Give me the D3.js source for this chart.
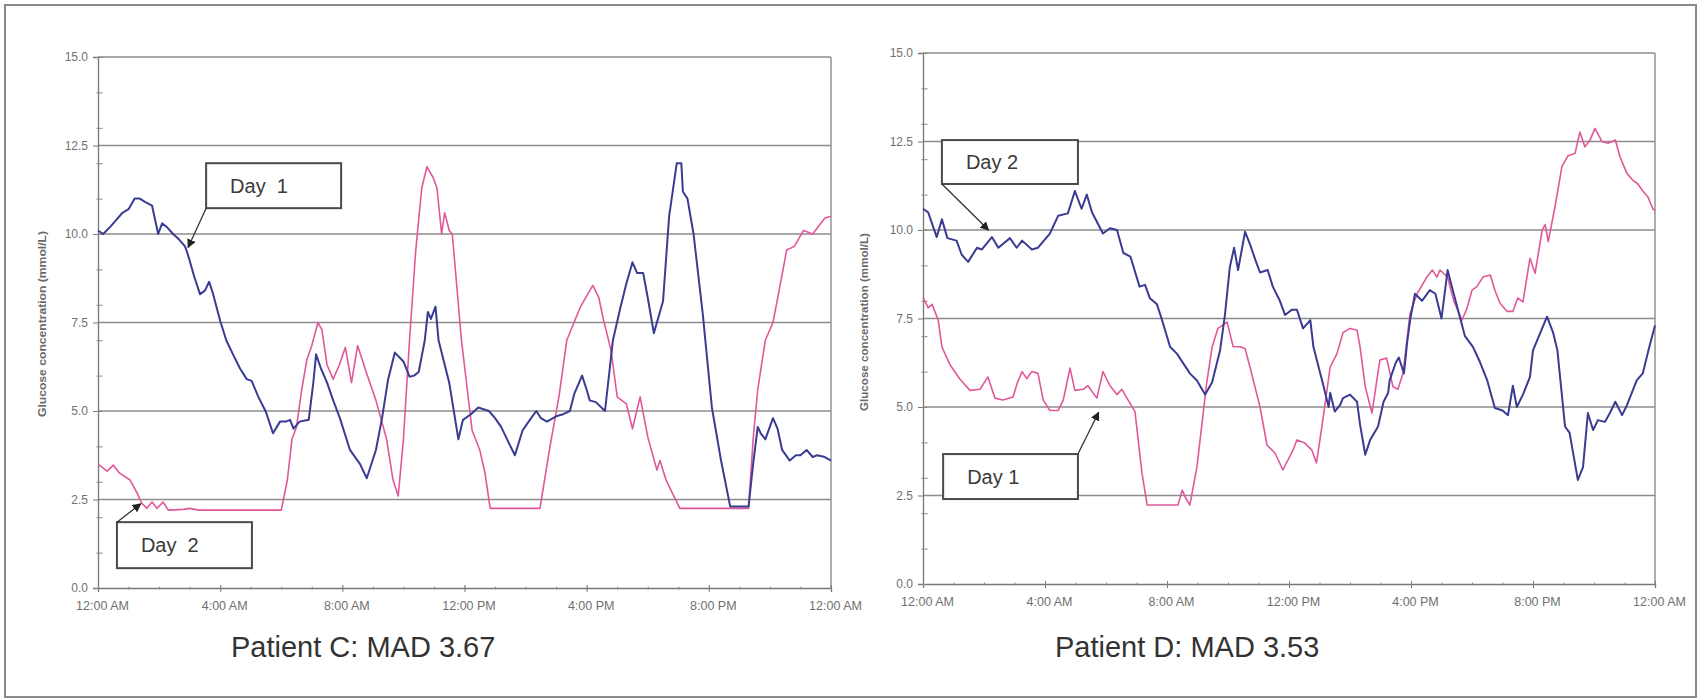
<!DOCTYPE html>
<html>
<head>
<meta charset="utf-8">
<script src="https://cdn.jsdelivr.net/npm/d3@7"></script>
<style>
  html, body { margin: 0; padding: 0; background: #fff; }
  svg { display: block; font-family: "Liberation Sans", Arial, sans-serif; }
</style>
</head>
<body>
<svg id="chart" width="1701" height="699"></svg>
<script>
// ---------------- DATA ----------------
// time in hours since midnight, glucose in mmol/L
const patientC_day1 = [[0,10.1],[0.17,10.0],[0.4,10.2],[0.6,10.4],[0.8,10.6],[1.0,10.7],[1.2,11.0],[1.37,11.0],[1.55,10.9],[1.77,10.8],[1.97,10.0],[2.1,10.3],[2.25,10.2],[2.46,10.0],[2.65,9.85],[2.85,9.65],[2.95,9.4],[3.15,8.8],[3.34,8.3],[3.5,8.4],[3.64,8.65],[3.77,8.3],[4.0,7.55],[4.2,7.0],[4.42,6.6],[4.65,6.2],[4.87,5.9],[5.03,5.85],[5.25,5.4],[5.5,4.97],[5.73,4.37],[5.96,4.7],[6.15,4.7],[6.29,4.75],[6.4,4.5],[6.6,4.7],[6.9,4.75],[7.05,5.8],[7.14,6.6],[7.3,6.2],[7.5,5.8],[7.7,5.3],[7.92,4.8],[8.25,3.9],[8.58,3.5],[8.8,3.1],[9.1,3.9],[9.3,4.8],[9.5,5.9],[9.72,6.65],[10.0,6.4],[10.2,5.97],[10.35,6.0],[10.5,6.1],[10.7,7.0],[10.8,7.8],[10.9,7.6],[11.05,7.95],[11.15,7.0],[11.5,5.8],[11.8,4.2],[11.95,4.75],[12.2,4.9],[12.45,5.1],[12.8,5.0],[13.0,4.8],[13.2,4.55],[13.45,4.1],[13.65,3.75],[13.9,4.45],[14.1,4.7],[14.35,5.0],[14.5,4.8],[14.7,4.7],[15.0,4.85],[15.2,4.9],[15.45,5.0],[15.6,5.5],[15.85,6.0],[16.0,5.6],[16.1,5.3],[16.3,5.25],[16.6,5.0],[16.86,7.0],[17.1,7.9],[17.3,8.6],[17.5,9.2],[17.65,8.9],[17.85,8.9],[18.0,8.2],[18.2,7.2],[18.5,8.1],[18.7,10.5],[18.95,12.0],[19.1,12.0],[19.15,11.2],[19.3,11.0],[19.5,10.0],[19.8,7.75],[20.1,5.1],[20.4,3.6],[20.7,2.3],[21.0,2.3],[21.3,2.3],[21.45,3.5],[21.6,4.55],[21.7,4.37],[21.85,4.2],[22.1,4.8],[22.25,4.5],[22.4,3.9],[22.65,3.6],[22.85,3.75],[23.0,3.75],[23.2,3.9],[23.4,3.7],[23.55,3.75],[23.8,3.7],[24,3.6]];

const patientC_day2 = [[0,3.5],[0.3,3.3],[0.5,3.47],[0.7,3.25],[1.05,3.05],[1.27,2.7],[1.43,2.4],[1.6,2.25],[1.77,2.43],[1.93,2.25],[2.13,2.43],[2.3,2.2],[2.8,2.22],[3.0,2.25],[3.3,2.2],[6.0,2.2],[6.2,3.05],[6.35,4.2],[6.5,4.55],[6.67,5.6],[6.84,6.45],[7.0,6.85],[7.2,7.5],[7.33,7.3],[7.5,6.3],[7.7,5.9],[7.9,6.3],[8.1,6.8],[8.3,5.8],[8.5,6.85],[8.8,6.05],[9.1,5.3],[9.45,4.2],[9.66,3.05],[9.83,2.6],[10.0,4.2],[10.2,7.0],[10.4,9.5],[10.6,11.3],[10.77,11.9],[10.97,11.6],[11.1,11.3],[11.25,10.0],[11.35,10.6],[11.5,10.1],[11.6,10.0],[11.9,7.0],[12.25,4.45],[12.5,3.9],[12.67,3.25],[12.84,2.25],[14.47,2.25],[14.8,4.0],[15.1,5.45],[15.35,7.0],[15.8,7.95],[16.2,8.55],[16.4,8.2],[16.55,7.57],[16.66,7.2],[16.8,6.7],[17.0,5.4],[17.15,5.3],[17.3,5.2],[17.5,4.5],[17.75,5.4],[18.0,4.27],[18.3,3.33],[18.4,3.6],[18.6,3.05],[19.05,2.25],[21.3,2.25],[21.45,4.2],[21.6,5.6],[21.85,7.0],[22.1,7.5],[22.3,8.4],[22.55,9.55],[22.8,9.65],[23.1,10.1],[23.4,10.0],[23.8,10.45],[24.0,10.5]];

const patientD_day2 = [[0,10.6],[0.17,10.5],[0.45,9.8],[0.62,10.3],[0.8,9.77],[1.1,9.7],[1.27,9.3],[1.48,9.1],[1.77,9.5],[1.93,9.45],[2.26,9.8],[2.47,9.5],[2.85,9.77],[3.07,9.5],[3.25,9.7],[3.57,9.45],[3.77,9.5],[4.16,9.9],[4.43,10.4],[4.75,10.47],[4.98,11.1],[5.2,10.6],[5.37,11.0],[5.54,10.5],[5.9,9.9],[6.13,10.05],[6.36,10.0],[6.57,9.35],[6.8,9.25],[7.1,8.4],[7.28,8.45],[7.44,8.07],[7.67,7.9],[7.84,7.45],[8.1,6.7],[8.33,6.5],[8.75,5.95],[8.98,5.75],[9.25,5.35],[9.48,5.7],[9.74,6.6],[9.9,7.6],[10.06,8.95],[10.2,9.5],[10.33,8.87],[10.56,9.95],[10.72,9.6],[10.9,9.15],[11.05,8.8],[11.3,8.87],[11.47,8.4],[11.7,8.0],[11.87,7.6],[12.1,7.75],[12.26,7.75],[12.46,7.22],[12.7,7.45],[12.8,6.7],[13.1,5.7],[13.3,5.0],[13.35,5.4],[13.5,4.87],[13.67,5.05],[13.77,5.25],[14.0,5.35],[14.23,5.15],[14.33,4.5],[14.5,3.65],[14.66,4.07],[14.92,4.45],[15.1,5.15],[15.25,5.4],[15.3,5.75],[15.5,6.25],[15.6,6.4],[15.77,5.95],[15.87,6.8],[15.97,7.45],[16.13,8.2],[16.36,8.0],[16.62,8.3],[16.8,8.2],[17.0,7.5],[17.2,8.87],[17.4,8.2],[17.6,7.55],[17.77,7.0],[18.03,6.7],[18.26,6.27],[18.5,5.75],[18.75,4.97],[19.0,4.9],[19.18,4.77],[19.34,5.6],[19.47,5.0],[19.67,5.35],[19.9,5.85],[20.0,6.6],[20.46,7.55],[20.66,7.1],[20.8,6.6],[21.05,4.45],[21.2,4.27],[21.47,2.94],[21.64,3.3],[21.8,4.83],[21.97,4.35],[22.13,4.63],[22.36,4.58],[22.52,4.83],[22.7,5.15],[22.92,4.77],[23.08,5.05],[23.4,5.75],[23.6,5.95],[23.8,6.65],[24.0,7.3]];

const patientD_day1 = [[0,8.1],[0.17,7.8],[0.3,7.9],[0.5,7.45],[0.62,6.7],[0.88,6.2],[1.2,5.8],[1.54,5.47],[1.87,5.5],[2.13,5.85],[2.36,5.25],[2.62,5.2],[2.95,5.28],[3.1,5.7],[3.25,6.0],[3.4,5.8],[3.57,6.0],[3.77,5.95],[3.94,5.2],[4.16,4.9],[4.43,4.9],[4.6,5.2],[4.82,6.1],[4.98,5.47],[5.25,5.5],[5.41,5.6],[5.7,5.25],[5.9,6.0],[6.13,5.6],[6.36,5.35],[6.52,5.5],[6.72,5.2],[6.95,4.87],[7.18,3.13],[7.35,2.23],[8.36,2.23],[8.5,2.65],[8.6,2.45],[8.75,2.23],[8.98,3.3],[9.15,4.55],[9.3,5.67],[9.48,6.7],[9.67,7.22],[9.97,7.4],[10.17,6.7],[10.4,6.7],[10.56,6.65],[10.72,6.13],[11.05,5.0],[11.28,3.92],[11.54,3.7],[11.8,3.22],[12.13,3.78],[12.26,4.07],[12.52,3.98],[12.75,3.78],[12.9,3.42],[13.08,4.45],[13.35,6.13],[13.57,6.5],[13.77,7.1],[14.0,7.22],[14.23,7.17],[14.33,6.7],[14.5,5.57],[14.72,4.83],[14.98,6.33],[15.2,6.38],[15.41,5.57],[15.57,5.5],[15.74,5.95],[15.97,7.65],[16.2,8.2],[16.52,8.67],[16.7,8.87],[16.85,8.67],[16.95,8.87],[17.2,8.67],[17.4,8.0],[17.67,7.45],[17.84,7.8],[18.0,8.3],[18.16,8.4],[18.36,8.67],[18.6,8.73],[18.75,8.3],[18.92,7.93],[19.15,7.7],[19.34,7.7],[19.5,8.08],[19.67,7.97],[19.9,9.2],[20.07,8.78],[20.3,10.0],[20.4,10.15],[20.5,9.67],[20.72,10.65],[20.95,11.8],[21.15,12.1],[21.38,12.17],[21.54,12.77],[21.7,12.35],[21.87,12.54],[22.03,12.87],[22.26,12.5],[22.46,12.45],[22.7,12.54],[22.85,12.07],[23.08,11.6],[23.28,11.4],[23.44,11.3],[23.6,11.1],[23.77,10.93],[23.93,10.6],[24.0,10.55]];

const xTickLabels = ["12:00 AM","4:00 AM","8:00 AM","12:00 PM","4:00 PM","8:00 PM","12:00 AM"];
const xLabelHours = [0,4,8,12,16,20,24];
const yMajorTicks = [0,2.5,5,7.5,10,12.5,15];
const yTitle = "Glucose concentration (mmol/L)";
const titles = ["Patient C: MAD 3.67", "Patient D: MAD 3.53"];

// annotations: label, box [t0,t1] x [vTop,vBottom], arrow start corner, arrow tip (t,v)
const annotationsC = [
  {label:"Day  1", box:[3.54,7.96,12.0,10.73], from:"bl", tip:[2.95,9.62]},
  {label:"Day  2", box:[0.62,5.04,1.86,0.56], from:"tl", tip:[1.4,2.38]}
];
const annotationsD = [
  {label:"Day 2", box:[0.62,5.08,12.54,11.3], from:"bl", tip:[2.15,10.0]},
  {label:"Day 1", box:[0.66,5.08,3.67,2.4], from:"tr", tip:[5.76,4.85]}
];

// ---------------- DRAWING ----------------
const svg = d3.select("#chart");
const BLUE = "#3a3c92", PINK = "#e0589a";

svg.append("defs").append("marker")
  .attr("id","arrow").attr("viewBox","0 0 10 10").attr("refX",9).attr("refY",5)
  .attr("markerWidth",9).attr("markerHeight",9).attr("markerUnits","userSpaceOnUse")
  .attr("orient","auto")
  .append("path").attr("d","M0,0 L10,5 L0,10 Z").attr("fill","#222");

// outer frame
svg.append("rect").attr("x",5).attr("y",5).attr("width",1691).attr("height",692)
  .attr("fill","none").attr("stroke","#8a8a8a").attr("stroke-width",2);

function panel(cfg) {
  const x = d3.scaleLinear().domain([0,24]).range([cfg.x0, cfg.x1]);
  const y = d3.scaleLinear().domain([0,15]).range([cfg.y1, cfg.y0]);
  const g = svg.append("g");

  // gridlines
  g.selectAll("line.grid").data(yMajorTicks.filter(d => d > 0)).join("line")
    .attr("x1", cfg.x0).attr("x2", cfg.x1)
    .attr("y1", d => y(d)).attr("y2", d => y(d))
    .attr("stroke","#8c8c8c").attr("stroke-width",1.6);
  // right border
  g.append("line").attr("x1",cfg.x1).attr("x2",cfg.x1).attr("y1",y(15)).attr("y2",y(0))
    .attr("stroke","#9a9a9a").attr("stroke-width",1.6);

  // y axis
  const yAxis = d3.axisLeft(y).tickValues(yMajorTicks).tickFormat(d3.format(".1f")).tickSize(5).tickPadding(5);
  const ya = g.append("g").attr("transform",`translate(${cfg.x0},0)`).call(yAxis);
  ya.select(".domain").attr("stroke","#777").attr("stroke-width",1.3);
  ya.selectAll(".tick line").attr("stroke","#777");
  ya.selectAll(".tick text").attr("fill","#707070").attr("font-size",12)
    .attr("font-family","Liberation Sans, Arial, sans-serif");
  // y minor ticks (every 1.0, crossing)
  const yMinor = d3.axisLeft(y).tickValues(d3.range(0,16,1)).tickSize(3).tickFormat("");
  const ym = g.append("g").attr("transform",`translate(${cfg.x0 + 1.5},0)`).call(yMinor);
  ym.select(".domain").remove();
  ym.selectAll(".tick line").attr("stroke","#888").attr("x2",-3).attr("x1",3);

  // x axis
  const xAxis = d3.axisBottom(x).tickValues(xLabelHours)
    .tickFormat((d,i) => xTickLabels[i]).tickSize(4).tickPadding(9);
  const xa = g.append("g").attr("transform",`translate(0,${cfg.y1})`).call(xAxis);
  xa.select(".domain").attr("stroke","#777").attr("stroke-width",1.3);
  xa.selectAll(".tick line").attr("stroke","#777").attr("y1",-3);
  xa.selectAll(".tick text").attr("fill","#707070").attr("font-size",12.5).attr("dx",4)
    .attr("font-family","Liberation Sans, Arial, sans-serif");
  const xMinor = d3.axisBottom(x).tickValues(d3.range(0,25,1)).tickSize(3).tickFormat("");
  const xm = g.append("g").attr("transform",`translate(0,${cfg.y1 - 1.5})`).call(xMinor);
  xm.select(".domain").remove();
  xm.selectAll(".tick line").attr("stroke","#888");

  // y title
  g.append("text")
    .attr("transform",`translate(${cfg.titleX},${cfg.titleY}) rotate(-90)`)
    .attr("text-anchor","middle").attr("font-size",10).attr("font-weight","bold")
    .attr("fill","#6a6a6a").attr("textLength",cfg.titleLen).attr("lengthAdjust","spacingAndGlyphs")
    .text(yTitle);

  // lines
  const line = d3.line().x(d => x(d[0])).y(d => y(d[1]));
  g.append("path").datum(cfg.pink).attr("d",line).attr("fill","none")
    .attr("stroke",PINK).attr("stroke-width",1.6).attr("stroke-linejoin","round");
  g.append("path").datum(cfg.blue).attr("d",line).attr("fill","none")
    .attr("stroke",BLUE).attr("stroke-width",2).attr("stroke-linejoin","round");

  // annotations
  cfg.ann.forEach(a => {
    const bx0 = x(a.box[0]), bx1 = x(a.box[1]), by0 = y(a.box[2]), by1 = y(a.box[3]);
    g.append("rect").attr("x",bx0).attr("y",by0).attr("width",bx1-bx0).attr("height",by1-by0)
      .attr("fill","#fff").attr("stroke","#4a4a4a").attr("stroke-width",2);
    g.append("text").attr("x",bx0 + 24).attr("y",(by0+by1)/2 + 7)
      .attr("font-size",20).attr("fill","#3a3a3a").attr("xml:space","preserve")
      .style("white-space","pre").text(a.label);
    const sx = a.from.includes("r") ? bx1 : bx0;
    const sy = a.from.includes("b") ? by1 : by0;
    g.append("line").attr("x1",sx).attr("y1",sy).attr("x2",x(a.tip[0])).attr("y2",y(a.tip[1]))
      .attr("stroke","#333").attr("stroke-width",1.3).attr("marker-end","url(#arrow)");
  });

  // chart caption
  svg.append("text").attr("x",cfg.capX).attr("y",657).attr("font-size",29)
    .attr("fill","#333").text(cfg.caption);
}

panel({x0:98, x1:831, y0:57, y1:588, blue:patientC_day1, pink:patientC_day2, ann:annotationsC,
       titleX:46, titleY:324, titleLen:186, capX:231, caption:titles[0]});
panel({x0:923, x1:1655, y0:53, y1:584, blue:patientD_day2, pink:patientD_day1, ann:annotationsD,
       titleX:868, titleY:322, titleLen:178, capX:1055, caption:titles[1]});
</script>
</body>
</html>
